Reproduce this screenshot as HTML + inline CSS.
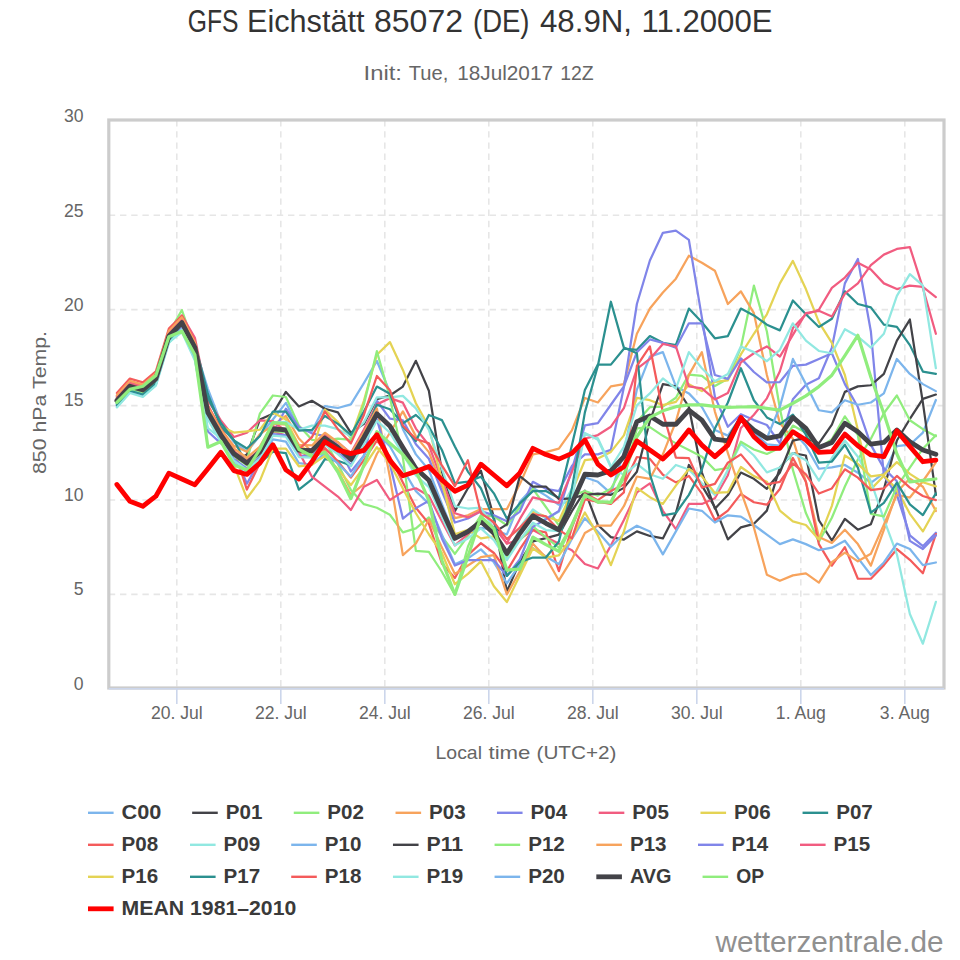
<!DOCTYPE html><html><head><meta charset="utf-8"><style>html,body{margin:0;padding:0;background:#fff;overflow:hidden}svg{display:block}text{-webkit-font-smoothing:antialiased}text{font-family:"Liberation Sans",sans-serif}</style></head><body>
<svg width="960" height="960" viewBox="0 0 600 600">
<rect x="0" y="0" width="600" height="600" fill="#fff"/>
<path d="M68 371.5H590" stroke="#e6e6e6" stroke-width="1" stroke-dasharray="4,3" fill="none"/>
<path d="M68 312.5H590" stroke="#e6e6e6" stroke-width="1" stroke-dasharray="4,3" fill="none"/>
<path d="M68 253.5H590" stroke="#e6e6e6" stroke-width="1" stroke-dasharray="4,3" fill="none"/>
<path d="M68 193.5H590" stroke="#e6e6e6" stroke-width="1" stroke-dasharray="4,3" fill="none"/>
<path d="M68 134.5H590" stroke="#e6e6e6" stroke-width="1" stroke-dasharray="4,3" fill="none"/>
<path d="M110.5 75V430" stroke="#e6e6e6" stroke-width="1" stroke-dasharray="4,3" fill="none"/>
<path d="M175.5 75V430" stroke="#e6e6e6" stroke-width="1" stroke-dasharray="4,3" fill="none"/>
<path d="M240.5 75V430" stroke="#e6e6e6" stroke-width="1" stroke-dasharray="4,3" fill="none"/>
<path d="M305.5 75V430" stroke="#e6e6e6" stroke-width="1" stroke-dasharray="4,3" fill="none"/>
<path d="M370.5 75V430" stroke="#e6e6e6" stroke-width="1" stroke-dasharray="4,3" fill="none"/>
<path d="M435.5 75V430" stroke="#e6e6e6" stroke-width="1" stroke-dasharray="4,3" fill="none"/>
<path d="M500.5 75V430" stroke="#e6e6e6" stroke-width="1" stroke-dasharray="4,3" fill="none"/>
<path d="M565.5 75V430" stroke="#e6e6e6" stroke-width="1" stroke-dasharray="4,3" fill="none"/>
<path d="M73.05 248.00 L81.17 239.01 L89.30 241.38 L97.42 234.39 L105.55 207.77 L113.67 200.31 L121.80 217.00 L129.93 243.03 L138.05 264.33 L146.18 276.28 L154.30 282.32 L162.43 272.26 L170.55 262.20 L178.68 251.79 L186.80 267.76 L194.93 269.54 L203.05 253.80 L211.18 254.99 L219.30 252.74 L227.43 239.48 L235.55 225.64 L243.68 245.04 L251.80 268.24 L259.93 283.98 L268.05 293.80 L276.18 314.98 L284.30 335.33 L292.43 333.68 L300.55 329.89 L308.68 331.19 L316.80 334.03 L324.93 313.56 L333.05 304.80 L341.18 309.77 L349.30 315.45 L357.43 312.61 L365.55 298.29 L373.68 301.13 L381.80 308.35 L389.93 282.44 L398.05 243.51 L406.18 222.92 L414.30 220.08 L422.43 241.50 L430.55 245.87 L438.68 254.39 L446.80 268.71 L454.93 272.26 L463.05 260.55 L471.18 270.13 L479.30 277.71 L487.43 278.53 L495.55 269.42 L503.68 278.65 L511.80 292.97 L519.92 292.14 L528.05 290.60 L536.17 295.46 L544.30 301.85 L552.42 295.69 L560.55 278.77 L568.67 277.94 L576.80 270.37 L584.92 250.01" stroke="#7cb5ec" stroke-width="1.4" fill="none" stroke-linejoin="round" stroke-linecap="round"/>
<path d="M73.05 251.32 L81.17 242.32 L89.30 244.69 L97.42 237.71 L105.55 211.08 L113.67 202.56 L121.80 218.18 L129.93 258.77 L138.05 274.87 L146.18 288.71 L154.30 284.10 L162.43 262.20 L170.55 258.53 L178.68 244.93 L186.80 254.04 L194.93 250.49 L203.05 255.46 L211.18 257.71 L219.30 270.49 L227.43 264.93 L235.55 249.42 L243.68 247.18 L251.80 241.61 L259.93 225.52 L268.05 244.22 L276.18 294.75 L284.30 319.48 L292.43 305.16 L300.55 294.15 L308.68 323.38 L316.80 369.77 L324.93 350.95 L333.05 338.41 L341.18 336.28 L349.30 334.15 L357.43 319.48 L365.55 306.70 L373.68 328.12 L381.80 335.69 L389.93 337.23 L398.05 332.14 L406.18 334.98 L414.30 336.52 L422.43 320.66 L430.55 290.60 L438.68 303.50 L446.80 316.99 L454.93 337.11 L463.05 329.65 L471.18 327.40 L479.30 319.12 L487.43 292.14 L495.55 283.15 L503.68 284.69 L511.80 325.16 L519.92 337.82 L528.05 324.33 L536.17 331.07 L544.30 327.64 L552.42 305.87 L560.55 275.34 L568.67 261.85 L576.80 249.31 L584.92 246.58" stroke="#434348" stroke-width="1.4" fill="none" stroke-linejoin="round" stroke-linecap="round"/>
<path d="M73.05 248.95 L81.17 239.96 L89.30 242.32 L97.42 235.11 L105.55 208.12 L113.67 193.81 L121.80 217.00 L129.93 259.72 L138.05 275.93 L146.18 282.32 L154.30 287.76 L162.43 258.53 L170.55 247.18 L178.68 248.12 L186.80 265.87 L194.93 274.87 L203.05 275.57 L211.18 290.01 L219.30 306.22 L227.43 315.10 L235.55 317.35 L243.68 321.73 L251.80 332.73 L259.93 330.25 L268.05 323.38 L276.18 335.22 L284.30 346.22 L292.43 335.10 L300.55 322.08 L308.68 322.67 L316.80 328.35 L324.93 316.87 L333.05 305.51 L341.18 316.87 L349.30 328.35 L357.43 309.77 L365.55 306.93 L373.68 309.77 L381.80 305.51 L389.93 291.08 L398.05 263.62 L406.18 254.51 L414.30 254.16 L422.43 248.59 L430.55 234.16 L438.68 234.87 L446.80 241.26 L454.93 236.76 L463.05 217.24 L471.18 178.54 L479.30 207.18 L487.43 255.34 L495.55 293.68 L503.68 320.66 L511.80 338.65 L519.92 323.62 L528.05 304.09 L536.17 287.17 L544.30 274.15 L552.42 258.30 L560.55 247.18 L568.67 262.68 L576.80 268.24 L584.92 272.62" stroke="#90ed7d" stroke-width="1.4" fill="none" stroke-linejoin="round" stroke-linecap="round"/>
<path d="M73.05 248.48 L81.17 239.48 L89.30 241.85 L97.42 234.87 L105.55 208.24 L113.67 199.72 L121.80 215.34 L129.93 255.93 L138.05 268.48 L146.18 278.65 L154.30 282.32 L162.43 271.32 L170.55 265.87 L178.68 259.96 L186.80 274.04 L194.93 282.32 L203.05 281.49 L211.18 294.39 L219.30 309.18 L227.43 302.56 L235.55 283.74 L243.68 270.49 L251.80 257.12 L259.93 272.74 L268.05 282.56 L276.18 303.62 L284.30 323.86 L292.43 322.08 L300.55 318.18 L308.68 318.18 L316.80 318.18 L324.93 302.56 L333.05 283.98 L341.18 282.56 L349.30 280.43 L357.43 268.95 L365.55 248.71 L373.68 251.55 L381.80 241.50 L389.93 240.07 L398.05 208.60 L406.18 192.86 L414.30 182.80 L422.43 174.16 L430.55 159.85 L438.68 164.22 L446.80 169.19 L454.93 190.02 L463.05 182.09 L471.18 195.70 L479.30 234.39 L487.43 264.45 L495.55 274.27 L503.68 301.13 L511.80 335.57 L519.92 339.36 L528.05 331.07 L536.17 340.07 L544.30 353.56 L552.42 331.19 L560.55 307.52 L568.67 299.12 L576.80 304.21 L584.92 319.36" stroke="#f7a35c" stroke-width="1.4" fill="none" stroke-linejoin="round" stroke-linecap="round"/>
<path d="M73.05 253.21 L81.17 244.22 L89.30 246.58 L97.42 239.60 L105.55 212.98 L113.67 206.47 L121.80 224.10 L129.93 269.66 L138.05 277.11 L146.18 282.32 L154.30 302.32 L162.43 287.76 L170.55 270.49 L178.68 255.46 L186.80 266.82 L194.93 270.84 L203.05 272.62 L211.18 278.18 L219.30 294.75 L227.43 284.80 L235.55 250.49 L243.68 261.61 L251.80 262.68 L259.93 277.59 L268.05 286.70 L276.18 307.05 L284.30 326.58 L292.43 324.09 L300.55 319.48 L308.68 322.08 L316.80 325.75 L324.93 319.71 L333.05 301.13 L341.18 305.51 L349.30 306.93 L357.43 291.19 L365.55 283.98 L373.68 283.98 L381.80 281.14 L389.93 242.09 L398.05 190.02 L406.18 162.80 L414.30 145.53 L422.43 144.11 L430.55 149.90 L438.68 198.54 L446.80 247.88 L454.93 266.70 L463.05 258.89 L471.18 262.56 L479.30 265.63 L487.43 277.11 L495.55 249.54 L503.68 240.43 L511.80 236.41 L519.92 217.24 L528.05 177.12 L536.17 161.86 L544.30 207.18 L552.42 297.35 L560.55 309.30 L568.67 334.62 L576.80 341.37 L584.92 332.97" stroke="#8085e9" stroke-width="1.4" fill="none" stroke-linejoin="round" stroke-linecap="round"/>
<path d="M73.05 247.53 L81.17 238.54 L89.30 240.90 L97.42 233.92 L105.55 207.30 L113.67 197.12 L121.80 211.08 L129.93 250.25 L138.05 262.80 L146.18 273.09 L154.30 270.49 L162.43 262.68 L170.55 263.15 L178.68 269.54 L186.80 281.25 L194.93 280.66 L203.05 271.79 L211.18 276.52 L219.30 283.15 L227.43 268.48 L235.55 252.74 L243.68 248.83 L251.80 251.67 L259.93 267.88 L268.05 278.30 L276.18 299.95 L284.30 320.78 L292.43 323.38 L300.55 319.48 L308.68 327.05 L316.80 339.83 L324.93 336.99 L333.05 331.19 L341.18 335.57 L349.30 339.83 L357.43 343.85 L365.55 352.49 L373.68 355.33 L381.80 341.01 L389.93 325.04 L398.05 307.76 L406.18 302.08 L414.30 319.24 L422.43 330.72 L430.55 314.98 L438.68 314.98 L446.80 311.43 L454.93 296.99 L463.05 267.53 L471.18 259.25 L479.30 248.95 L487.43 232.03 L495.55 205.05 L503.68 196.41 L511.80 193.57 L519.92 179.96 L528.05 173.45 L536.17 164.22 L544.30 168.48 L552.42 177.12 L560.55 180.67 L568.67 178.54 L576.80 179.25 L584.92 185.64" stroke="#f15c80" stroke-width="1.4" fill="none" stroke-linejoin="round" stroke-linecap="round"/>
<path d="M73.05 249.42 L81.17 240.43 L89.30 242.80 L97.42 235.81 L105.55 209.19 L113.67 200.67 L121.80 216.53 L129.93 257.23 L138.05 266.46 L146.18 270.37 L154.30 269.54 L162.43 268.59 L170.55 257.83 L178.68 262.20 L186.80 278.53 L194.93 282.68 L203.05 256.05 L211.18 263.86 L219.30 273.80 L227.43 250.49 L235.55 221.73 L243.68 213.81 L251.80 231.20 L259.93 252.03 L268.05 266.70 L276.18 300.66 L284.30 333.91 L292.43 331.19 L300.55 336.52 L308.68 335.22 L316.80 346.22 L324.93 332.14 L333.05 319.71 L341.18 322.79 L349.30 325.51 L357.43 307.41 L365.55 287.64 L373.68 286.58 L381.80 282.44 L389.93 272.14 L398.05 248.71 L406.18 250.13 L414.30 253.21 L422.43 251.20 L430.55 240.19 L438.68 244.45 L446.80 238.66 L454.93 237.71 L463.05 221.50 L471.18 208.60 L479.30 196.41 L487.43 177.12 L495.55 163.04 L503.68 180.67 L511.80 201.38 L519.92 214.28 L528.05 234.39 L536.17 268.71 L544.30 305.87 L552.42 297.35 L560.55 305.87 L568.67 321.13 L576.80 332.14 L584.92 317.70" stroke="#e4d354" stroke-width="1.4" fill="none" stroke-linejoin="round" stroke-linecap="round"/>
<path d="M73.05 252.26 L81.17 243.27 L89.30 245.64 L97.42 238.66 L105.55 212.03 L113.67 201.26 L121.80 214.63 L129.93 246.23 L138.05 266.82 L146.18 274.98 L154.30 290.49 L162.43 289.54 L170.55 282.32 L178.68 283.15 L186.80 305.99 L194.93 299.60 L203.05 286.94 L211.18 288.00 L219.30 290.96 L227.43 272.50 L235.55 252.97 L243.68 255.81 L251.80 264.57 L259.93 259.36 L268.05 266.70 L276.18 281.25 L284.30 302.08 L292.43 301.02 L300.55 297.94 L308.68 308.35 L316.80 324.09 L324.93 314.62 L333.05 306.93 L341.18 306.93 L349.30 311.19 L357.43 278.30 L365.55 243.74 L373.68 227.89 L381.80 227.89 L389.93 217.95 L398.05 218.66 L406.18 210.02 L414.30 214.28 L422.43 215.70 L430.55 192.86 L438.68 201.38 L446.80 211.44 L454.93 210.02 L463.05 192.86 L471.18 197.12 L479.30 202.92 L487.43 206.47 L495.55 187.77 L503.68 196.41 L511.80 204.34 L519.92 199.25 L528.05 182.09 L536.17 190.02 L544.30 192.15 L552.42 202.92 L560.55 204.34 L568.67 215.70 L576.80 232.26 L584.92 233.69" stroke="#2b908f" stroke-width="1.4" fill="none" stroke-linejoin="round" stroke-linecap="round"/>
<path d="M73.05 245.64 L81.17 236.64 L89.30 239.01 L97.42 232.03 L105.55 205.40 L113.67 197.36 L121.80 213.45 L129.93 253.33 L138.05 268.12 L146.18 280.43 L154.30 305.99 L162.43 289.54 L170.55 269.54 L178.68 272.26 L186.80 282.32 L194.93 285.28 L203.05 279.95 L211.18 288.36 L219.30 298.53 L227.43 287.53 L235.55 275.34 L243.68 285.51 L251.80 301.61 L259.93 317.35 L268.05 327.29 L276.18 352.14 L284.30 361.25 L292.43 346.93 L300.55 339.48 L308.68 345.63 L316.80 356.99 L324.93 343.26 L333.05 331.19 L341.18 332.73 L349.30 356.99 L357.43 329.77 L365.55 308.35 L373.68 312.61 L381.80 306.93 L389.93 302.79 L398.05 285.63 L406.18 286.82 L414.30 296.76 L422.43 301.49 L430.55 297.47 L438.68 308.47 L446.80 325.16 L454.93 319.12 L463.05 308.71 L471.18 313.91 L479.30 315.45 L487.43 305.63 L495.55 286.23 L503.68 301.13 L511.80 340.07 L519.92 353.56 L528.05 341.96 L536.17 361.72 L544.30 361.72 L552.42 353.20 L560.55 343.14 L568.67 349.89 L576.80 358.29 L584.92 333.79" stroke="#f45b5b" stroke-width="1.4" fill="none" stroke-linejoin="round" stroke-linecap="round"/>
<path d="M73.05 254.16 L81.17 245.16 L89.30 247.53 L97.42 240.55 L105.55 213.92 L113.67 207.53 L121.80 225.28 L129.93 267.65 L138.05 274.04 L146.18 290.49 L154.30 294.15 L162.43 282.32 L170.55 264.10 L178.68 263.62 L186.80 268.59 L194.93 265.99 L203.05 265.99 L211.18 268.24 L219.30 272.62 L227.43 263.86 L235.55 248.36 L243.68 248.36 L251.80 247.41 L259.93 255.22 L268.05 268.71 L276.18 292.97 L284.30 316.40 L292.43 317.82 L300.55 317.23 L308.68 330.25 L316.80 348.47 L324.93 329.77 L333.05 318.41 L341.18 324.09 L349.30 319.83 L357.43 305.51 L365.55 271.08 L373.68 273.92 L381.80 291.19 L389.93 296.99 L398.05 289.89 L406.18 296.40 L414.30 299.24 L422.43 290.60 L430.55 293.44 L438.68 302.08 L446.80 309.30 L454.93 293.68 L463.05 277.23 L471.18 284.69 L479.30 295.22 L487.43 292.14 L495.55 283.15 L503.68 287.64 L511.80 300.43 L519.92 286.23 L528.05 275.34 L536.17 285.51 L544.30 300.78 L552.42 324.45 L560.55 346.46 L568.67 383.73 L576.80 402.31 L584.92 376.16" stroke="#91e8e1" stroke-width="1.4" fill="none" stroke-linejoin="round" stroke-linecap="round"/>
<path d="M73.05 252.74 L81.17 243.74 L89.30 246.11 L97.42 239.13 L105.55 212.50 L113.67 205.64 L121.80 222.92 L129.93 261.14 L138.05 275.93 L146.18 288.24 L154.30 294.75 L162.43 288.47 L170.55 274.63 L178.68 276.05 L186.80 289.42 L194.93 290.37 L203.05 283.15 L211.18 289.66 L219.30 297.82 L227.43 284.80 L235.55 270.72 L243.68 278.89 L251.80 293.09 L259.93 306.93 L268.05 314.86 L276.18 334.15 L284.30 352.61 L292.43 348.94 L300.55 343.38 L308.68 351.43 L316.80 364.56 L324.93 352.73 L333.05 342.55 L341.18 347.76 L349.30 352.61 L357.43 336.75 L365.55 323.86 L373.68 332.38 L381.80 341.72 L389.93 333.56 L398.05 328.59 L406.18 332.14 L414.30 346.46 L422.43 332.14 L430.55 317.82 L438.68 319.24 L446.80 326.58 L454.93 322.08 L463.05 322.91 L471.18 328.12 L479.30 334.15 L487.43 340.07 L495.55 337.11 L503.68 340.07 L511.80 343.85 L519.92 342.31 L528.05 337.94 L536.17 348.70 L544.30 359.36 L552.42 351.55 L560.55 339.71 L568.67 343.14 L576.80 353.20 L584.92 351.55" stroke="#7cb5ec" stroke-width="1.4" fill="none" stroke-linejoin="round" stroke-linecap="round"/>
<path d="M73.05 249.90 L81.17 240.90 L89.30 243.27 L97.42 236.29 L105.55 209.66 L113.67 201.14 L121.80 216.76 L129.93 257.35 L138.05 271.43 L146.18 283.15 L154.30 288.95 L162.43 281.97 L170.55 267.53 L178.68 268.24 L186.80 280.90 L194.93 281.25 L203.05 273.33 L211.18 279.12 L219.30 286.70 L227.43 272.97 L235.55 258.18 L243.68 265.75 L251.80 279.24 L259.93 292.38 L268.05 299.72 L276.18 318.29 L284.30 336.04 L292.43 331.78 L300.55 325.51 L308.68 332.85 L316.80 327.76 L324.93 297.59 L333.05 304.09 L341.18 304.09 L349.30 311.90 L357.43 311.43 L365.55 309.30 L373.68 308.47 L381.80 309.30 L389.93 304.92 L398.05 294.86 L406.18 263.15 L414.30 240.07 L422.43 241.50 L430.55 254.39 L438.68 295.34 L446.80 317.94 L454.93 309.42 L463.05 295.34 L471.18 299.24 L479.30 305.51 L487.43 295.34 L495.55 275.34 L503.68 273.68 L511.80 277.11 L519.92 265.40 L528.05 244.93 L536.17 241.50 L544.30 240.78 L552.42 233.69 L560.55 212.86 L568.67 199.72 L576.80 251.67 L584.92 309.30" stroke="#434348" stroke-width="1.4" fill="none" stroke-linejoin="round" stroke-linecap="round"/>
<path d="M73.05 251.79 L81.17 242.80 L89.30 245.16 L97.42 238.18 L105.55 211.56 L113.67 203.04 L121.80 218.66 L129.93 259.25 L138.05 273.33 L146.18 285.04 L154.30 290.84 L162.43 283.86 L170.55 269.42 L178.68 270.13 L186.80 282.79 L194.93 283.15 L203.05 275.22 L211.18 274.15 L219.30 274.87 L227.43 252.74 L235.55 219.49 L243.68 248.36 L251.80 285.99 L259.93 344.33 L268.05 344.92 L276.18 357.34 L284.30 371.66 L292.43 341.72 L300.55 323.38 L308.68 333.09 L316.80 347.88 L324.93 337.58 L333.05 328.94 L341.18 335.81 L349.30 342.20 L357.43 327.88 L365.55 309.30 L373.68 314.27 L381.80 313.56 L389.93 299.24 L398.05 267.76 L406.18 266.94 L414.30 272.38 L422.43 277.11 L430.55 281.25 L438.68 285.40 L446.80 293.80 L454.93 292.50 L463.05 276.05 L471.18 280.90 L479.30 283.74 L487.43 279.84 L495.55 265.99 L503.68 270.49 L511.80 280.07 L519.92 274.51 L528.05 260.19 L536.17 272.02 L544.30 321.13 L552.42 322.79 L560.55 304.21 L568.67 292.26 L576.80 280.43 L584.92 272.02" stroke="#90ed7d" stroke-width="1.4" fill="none" stroke-linejoin="round" stroke-linecap="round"/>
<path d="M73.05 247.06 L81.17 238.06 L89.30 240.43 L97.42 233.45 L105.55 206.82 L113.67 198.30 L121.80 213.92 L129.93 254.51 L138.05 268.59 L146.18 280.31 L154.30 286.11 L162.43 279.12 L170.55 264.69 L178.68 265.40 L186.80 278.06 L194.93 278.41 L203.05 270.49 L211.18 276.28 L219.30 283.86 L227.43 270.13 L235.55 255.34 L243.68 298.18 L251.80 346.93 L259.93 339.71 L268.05 324.68 L276.18 342.20 L284.30 358.76 L292.43 353.44 L300.55 348.23 L308.68 346.93 L316.80 371.54 L324.93 356.99 L333.05 339.83 L341.18 348.47 L349.30 362.79 L357.43 349.65 L365.55 333.09 L373.68 328.47 L381.80 328.47 L389.93 316.40 L398.05 297.82 L406.18 299.24 L414.30 283.98 L422.43 263.50 L430.55 234.28 L438.68 220.08 L446.80 257.23 L454.93 283.15 L463.05 307.17 L471.18 329.65 L479.30 359.24 L487.43 363.02 L495.55 359.59 L503.68 358.41 L511.80 364.09 L519.92 351.31 L528.05 345.39 L536.17 350.83 L544.30 346.10 L552.42 327.88 L560.55 309.30 L568.67 310.96 L576.80 300.78 L584.92 288.95" stroke="#f7a35c" stroke-width="1.4" fill="none" stroke-linejoin="round" stroke-linecap="round"/>
<path d="M73.05 253.68 L81.17 244.69 L89.30 247.06 L97.42 240.07 L105.55 213.45 L113.67 204.93 L121.80 220.55 L129.93 261.14 L138.05 275.22 L146.18 286.94 L154.30 292.73 L162.43 285.75 L170.55 271.32 L178.68 272.02 L186.80 284.69 L194.93 285.04 L203.05 277.11 L211.18 282.91 L219.30 290.49 L227.43 276.76 L235.55 261.97 L243.68 290.01 L251.80 324.09 L259.93 317.58 L268.05 312.97 L276.18 336.52 L284.30 353.44 L292.43 350.12 L300.55 350.12 L308.68 350.12 L316.80 359.95 L324.93 349.53 L333.05 329.30 L341.18 324.56 L349.30 319.36 L357.43 293.44 L365.55 265.87 L373.68 264.45 L381.80 252.97 L389.93 241.50 L398.05 220.08 L406.18 212.15 L414.30 214.28 L422.43 217.24 L430.55 202.09 L438.68 202.09 L446.80 234.39 L454.93 236.76 L463.05 223.98 L471.18 232.50 L479.30 239.01 L487.43 238.77 L495.55 228.60 L503.68 227.89 L511.80 224.34 L519.92 220.79 L528.05 240.07 L536.17 254.39 L544.30 278.06 L552.42 292.73 L560.55 300.78 L568.67 338.06 L576.80 343.14 L584.92 334.62" stroke="#8085e9" stroke-width="1.4" fill="none" stroke-linejoin="round" stroke-linecap="round"/>
<path d="M73.05 248.95 L81.17 239.96 L89.30 242.32 L97.42 235.34 L105.55 208.72 L113.67 200.20 L121.80 215.82 L129.93 256.40 L138.05 270.49 L146.18 282.20 L154.30 288.00 L162.43 281.02 L170.55 266.58 L178.68 268.48 L186.80 282.32 L194.93 297.94 L203.05 304.21 L211.18 310.37 L219.30 318.77 L227.43 304.21 L235.55 299.95 L243.68 312.50 L251.80 307.29 L259.93 305.16 L268.05 309.89 L276.18 325.75 L284.30 340.89 L292.43 333.91 L300.55 325.04 L308.68 329.65 L316.80 339.59 L324.93 324.33 L333.05 310.84 L341.18 312.73 L349.30 314.27 L357.43 294.98 L365.55 274.15 L373.68 271.91 L381.80 266.70 L389.93 255.10 L398.05 230.61 L406.18 224.34 L414.30 214.99 L422.43 216.53 L430.55 241.50 L438.68 242.80 L446.80 249.66 L454.93 245.64 L463.05 226.47 L471.18 220.79 L479.30 216.53 L487.43 222.92 L495.55 209.31 L503.68 195.70 L511.80 194.28 L519.92 197.83 L528.05 183.51 L536.17 177.12 L544.30 165.64 L552.42 159.13 L560.55 155.58 L568.67 154.40 L576.80 179.96 L584.92 208.60" stroke="#f15c80" stroke-width="1.4" fill="none" stroke-linejoin="round" stroke-linecap="round"/>
<path d="M73.05 250.84 L81.17 241.85 L89.30 244.22 L97.42 237.24 L105.55 210.61 L113.67 202.09 L121.80 217.71 L129.93 258.30 L138.05 275.57 L146.18 290.49 L154.30 311.43 L162.43 300.54 L170.55 280.43 L178.68 280.43 L186.80 291.43 L194.93 290.49 L203.05 284.92 L211.18 293.21 L219.30 303.15 L227.43 291.79 L235.55 279.48 L243.68 289.42 L251.80 305.28 L259.93 320.78 L268.05 333.91 L276.18 345.63 L284.30 365.15 L292.43 358.64 L300.55 350.83 L308.68 366.45 L316.80 376.28 L324.93 359.59 L333.05 342.67 L341.18 348.47 L349.30 347.05 L357.43 336.04 L365.55 320.31 L373.68 334.62 L381.80 353.20 L389.93 332.14 L398.05 304.92 L406.18 310.72 L414.30 314.98 L422.43 303.50 L430.55 293.09 L438.68 297.70 L446.80 308.12 L454.93 307.64 L463.05 291.90 L471.18 297.59 L479.30 301.13 L487.43 319.12 L495.55 325.87 L503.68 328.12 L511.80 337.11 L519.92 316.16 L528.05 284.69 L536.17 289.89 L544.30 297.70 L552.42 296.64 L560.55 288.83 L568.67 296.16 L576.80 301.37 L584.92 303.98" stroke="#e4d354" stroke-width="1.4" fill="none" stroke-linejoin="round" stroke-linecap="round"/>
<path d="M73.05 253.21 L81.17 244.22 L89.30 246.58 L97.42 239.60 L105.55 212.98 L113.67 202.33 L121.80 215.82 L129.93 248.95 L138.05 264.33 L146.18 275.22 L154.30 280.31 L162.43 272.50 L170.55 257.23 L178.68 257.23 L186.80 269.07 L194.93 268.71 L203.05 259.96 L211.18 264.93 L219.30 271.79 L227.43 257.23 L235.55 241.61 L243.68 246.11 L251.80 266.58 L259.93 275.57 L268.05 259.36 L276.18 262.56 L284.30 279.12 L292.43 294.75 L300.55 305.16 L308.68 324.68 L316.80 359.95 L324.93 351.31 L333.05 348.47 L341.18 348.47 L349.30 338.41 L357.43 305.51 L365.55 257.71 L373.68 228.60 L381.80 188.60 L389.93 217.24 L398.05 220.79 L406.18 296.40 L414.30 322.08 L422.43 320.66 L430.55 309.30 L438.68 293.44 L446.80 267.76 L454.93 251.55 L463.05 230.13 L471.18 250.13 L479.30 260.90 L487.43 265.04 L495.55 259.13 L503.68 271.67 L511.80 289.18 L519.92 288.47 L528.05 277.94 L536.17 292.26 L544.30 320.42 L552.42 314.27 L560.55 301.61 L568.67 315.22 L576.80 321.96 L584.92 308.35" stroke="#2b908f" stroke-width="1.4" fill="none" stroke-linejoin="round" stroke-linecap="round"/>
<path d="M73.05 249.90 L81.17 240.90 L89.30 243.27 L97.42 236.29 L105.55 209.66 L113.67 201.14 L121.80 216.76 L129.93 257.35 L138.05 271.43 L146.18 283.15 L154.30 288.95 L162.43 281.97 L170.55 267.53 L178.68 268.24 L186.80 280.90 L194.93 273.21 L203.05 257.12 L211.18 268.24 L219.30 277.11 L227.43 259.36 L235.55 234.99 L243.68 243.86 L251.80 265.99 L259.93 274.39 L268.05 277.00 L276.18 290.84 L284.30 303.86 L292.43 287.64 L300.55 320.78 L308.68 326.34 L316.80 336.99 L324.93 329.77 L333.05 321.25 L341.18 322.67 L349.30 331.19 L357.43 336.52 L365.55 312.14 L373.68 313.56 L381.80 314.98 L389.93 307.76 L398.05 228.60 L406.18 216.53 L414.30 257.83 L422.43 285.99 L430.55 286.34 L438.68 304.69 L446.80 302.44 L454.93 289.18 L463.05 283.98 L471.18 293.68 L479.30 302.67 L487.43 301.13 L495.55 289.66 L503.68 296.52 L511.80 308.47 L519.92 305.28 L528.05 293.32 L536.17 298.53 L544.30 306.34 L552.42 305.28 L560.55 297.47 L568.67 304.80 L576.80 310.01 L584.92 312.61" stroke="#f45b5b" stroke-width="1.4" fill="none" stroke-linejoin="round" stroke-linecap="round"/>
<path d="M73.05 254.63 L81.17 245.64 L89.30 248.00 L97.42 241.02 L105.55 214.40 L113.67 205.88 L121.80 221.50 L129.93 262.09 L138.05 276.17 L146.18 287.88 L154.30 293.68 L162.43 286.70 L170.55 272.26 L178.68 272.97 L186.80 285.63 L194.93 285.99 L203.05 278.06 L211.18 283.86 L219.30 291.43 L227.43 277.71 L235.55 262.91 L243.68 270.49 L251.80 283.98 L259.93 297.11 L268.05 304.45 L276.18 323.03 L284.30 340.78 L292.43 336.52 L300.55 330.25 L308.68 337.58 L316.80 350.12 L324.93 337.58 L333.05 326.69 L341.18 331.31 L349.30 332.02 L357.43 312.14 L365.55 270.61 L373.68 274.87 L381.80 292.02 L389.93 279.24 L398.05 253.33 L406.18 245.87 L414.30 236.52 L422.43 242.91 L430.55 220.08 L438.68 230.13 L446.80 238.30 L454.93 233.69 L463.05 216.53 L471.18 220.08 L479.30 225.76 L487.43 218.66 L495.55 202.09 L503.68 212.86 L511.80 219.37 L519.92 220.79 L528.05 205.76 L536.17 210.37 L544.30 217.24 L552.42 208.60 L560.55 184.93 L568.67 171.32 L576.80 178.54 L584.92 230.13" stroke="#91e8e1" stroke-width="1.4" fill="none" stroke-linejoin="round" stroke-linecap="round"/>
<path d="M73.05 250.37 L81.17 241.38 L89.30 243.74 L97.42 236.76 L105.55 210.14 L113.67 201.62 L121.80 217.24 L129.93 257.83 L138.05 271.91 L146.18 283.62 L154.30 289.42 L162.43 282.44 L170.55 268.00 L178.68 268.71 L186.80 281.37 L194.93 281.73 L203.05 273.80 L211.18 279.60 L219.30 287.17 L227.43 273.44 L235.55 258.65 L243.68 266.23 L251.80 279.72 L259.93 292.85 L268.05 300.19 L276.18 318.77 L284.30 336.52 L292.43 332.26 L300.55 325.99 L308.68 333.32 L316.80 345.87 L324.93 333.32 L333.05 322.43 L341.18 327.05 L349.30 331.19 L357.43 314.62 L365.55 296.40 L373.68 296.88 L381.80 294.27 L389.93 285.40 L398.05 263.50 L406.18 259.96 L414.30 265.16 L422.43 265.16 L430.55 256.29 L438.68 262.56 L446.80 274.51 L454.93 275.57 L463.05 261.49 L471.18 268.71 L479.30 273.92 L487.43 254.16 L495.55 224.34 L503.68 240.07 L511.80 256.40 L519.92 257.71 L528.05 250.13 L536.17 252.97 L544.30 251.55 L552.42 245.87 L560.55 224.34 L568.67 233.69 L576.80 240.07 L584.92 244.45" stroke="#7cb5ec" stroke-width="1.4" fill="none" stroke-linejoin="round" stroke-linecap="round"/>
<path d="M73.05 250.37 L81.17 241.38 L89.30 243.74 L97.42 236.76 L105.55 210.14 L113.67 201.62 L121.80 217.24 L129.93 257.83 L138.05 271.91 L146.18 283.62 L154.30 289.42 L162.43 282.44 L170.55 268.00 L178.68 268.71 L186.80 281.37 L194.93 281.73 L203.05 273.80 L211.18 279.60 L219.30 287.17 L227.43 273.44 L235.55 258.65 L243.68 266.23 L251.80 279.72 L259.93 292.85 L268.05 300.19 L276.18 318.77 L284.30 336.52 L292.43 332.26 L300.55 325.99 L308.68 333.32 L316.80 345.87 L324.93 333.32 L333.05 322.43 L341.18 327.05 L349.30 331.19 L357.43 314.62 L365.55 296.40 L373.68 296.88 L381.80 294.27 L389.93 285.40 L398.05 263.50 L406.18 259.96 L414.30 265.16 L422.43 265.16 L430.55 256.29 L438.68 262.56 L446.80 274.51 L454.93 275.57 L463.05 261.49 L471.18 268.71 L479.30 273.92 L487.43 272.38 L495.55 260.90 L503.68 267.76 L511.80 279.72 L519.92 276.52 L528.05 264.57 L536.17 269.78 L544.30 277.59 L552.42 276.52 L560.55 268.71 L568.67 276.05 L576.80 281.25 L584.92 283.86" stroke="#434348" stroke-width="3" fill="none" stroke-linejoin="round" stroke-linecap="round"/>
<path d="M73.05 251.55 L81.17 243.39 L89.30 241.38 L97.42 234.75 L105.55 210.49 L113.67 207.06 L121.80 221.73 L129.93 279.48 L138.05 275.93 L146.18 290.60 L154.30 293.80 L162.43 280.78 L170.55 264.10 L178.68 264.69 L186.80 280.78 L194.93 285.16 L203.05 282.68 L211.18 295.10 L219.30 311.67 L227.43 290.60 L235.55 269.78 L243.68 277.00 L251.80 284.10 L259.93 294.15 L268.05 312.85 L276.18 350.36 L284.30 371.54 L292.43 348.00 L300.55 322.91 L308.68 330.48 L316.80 356.28 L324.93 355.69 L333.05 335.69 L341.18 340.42 L349.30 344.56 L357.43 328.12 L365.55 309.42 L373.68 313.56 L381.80 314.03 L389.93 296.88 L398.05 272.97 L406.18 260.90 L414.30 256.76 L422.43 254.16 L430.55 253.09 L438.68 253.09 L446.80 254.04 L454.93 254.63 L463.05 254.39 L471.18 254.16 L479.30 255.22 L487.43 256.29 L495.55 252.03 L503.68 247.41 L511.80 241.61 L519.92 234.51 L528.05 222.32 L536.17 209.55 L544.30 235.81 L552.42 258.42 L560.55 283.74 L568.67 301.25 L576.80 300.19 L584.92 299.36" stroke="#90ed7d" stroke-width="2" fill="none" stroke-linejoin="round" stroke-linecap="round"/>
<path d="M73.05 302.79 L81.17 313.32 L89.30 316.40 L97.42 310.13 L105.55 295.69 L113.67 299.36 L121.80 303.03 L129.93 292.97 L138.05 282.68 L146.18 294.15 L154.30 296.52 L162.43 289.42 L170.55 277.94 L178.68 293.68 L186.80 299.36 L194.93 288.59 L203.05 276.05 L211.18 281.14 L219.30 283.50 L227.43 281.49 L235.55 271.67 L243.68 287.76 L251.80 297.35 L259.93 294.63 L268.05 291.55 L276.18 299.95 L284.30 307.05 L292.43 303.15 L300.55 290.13 L308.68 296.88 L316.80 303.62 L324.93 295.57 L333.05 280.19 L341.18 284.10 L349.30 286.94 L357.43 283.38 L365.55 274.98 L373.68 290.13 L381.80 296.88 L389.93 291.67 L398.05 275.57 L406.18 281.25 L414.30 286.94 L422.43 279.12 L430.55 268.71 L438.68 278.18 L446.80 285.40 L454.93 278.18 L463.05 260.90 L471.18 272.97 L479.30 280.19 L487.43 280.19 L495.55 269.78 L503.68 274.98 L511.80 282.79 L519.92 282.32 L528.05 271.32 L536.17 278.65 L544.30 284.33 L552.42 285.40 L560.55 269.30 L568.67 279.12 L576.80 288.59 L584.92 287.53" stroke="#ff0000" stroke-width="3" fill="none" stroke-linejoin="round" stroke-linecap="round"/>
<rect x="68" y="75" width="522" height="355" fill="none" stroke="#cccccc" stroke-width="2"/>
<path d="M68 430.5H590" stroke="#ccd6eb" stroke-width="1"/>
<path d="M110.5 430V440" stroke="#ccd6eb" stroke-width="1"/>
<text x="110.5" y="449.1" text-anchor="middle" font-size="11" fill="#666666">20. Jul</text>
<path d="M175.5 430V440" stroke="#ccd6eb" stroke-width="1"/>
<text x="175.5" y="449.1" text-anchor="middle" font-size="11" fill="#666666">22. Jul</text>
<path d="M240.5 430V440" stroke="#ccd6eb" stroke-width="1"/>
<text x="240.5" y="449.1" text-anchor="middle" font-size="11" fill="#666666">24. Jul</text>
<path d="M305.5 430V440" stroke="#ccd6eb" stroke-width="1"/>
<text x="305.5" y="449.1" text-anchor="middle" font-size="11" fill="#666666">26. Jul</text>
<path d="M370.5 430V440" stroke="#ccd6eb" stroke-width="1"/>
<text x="370.5" y="449.1" text-anchor="middle" font-size="11" fill="#666666">28. Jul</text>
<path d="M435.5 430V440" stroke="#ccd6eb" stroke-width="1"/>
<text x="435.5" y="449.1" text-anchor="middle" font-size="11" fill="#666666">30. Jul</text>
<path d="M500.5 430V440" stroke="#ccd6eb" stroke-width="1"/>
<text x="500.5" y="449.1" text-anchor="middle" font-size="11" fill="#666666">1. Aug</text>
<path d="M565.5 430V440" stroke="#ccd6eb" stroke-width="1"/>
<text x="565.5" y="449.1" text-anchor="middle" font-size="11" fill="#666666">3. Aug</text>
<text x="52.25" y="431.25" text-anchor="end" font-size="11" fill="#666666">0</text>
<text x="52.25" y="372.08" text-anchor="end" font-size="11" fill="#666666">5</text>
<text x="52.25" y="312.92" text-anchor="end" font-size="11" fill="#666666">10</text>
<text x="52.25" y="253.75" text-anchor="end" font-size="11" fill="#666666">15</text>
<text x="52.25" y="194.58" text-anchor="end" font-size="11" fill="#666666">20</text>
<text x="52.25" y="135.42" text-anchor="end" font-size="11" fill="#666666">25</text>
<text x="52.25" y="76.25" text-anchor="end" font-size="11" fill="#666666">30</text>
<text transform="translate(28.75 251.55) rotate(-90)" x="0" y="0" text-anchor="middle" font-size="12" fill="#666666" textLength="89.4" lengthAdjust="spacingAndGlyphs">850 hPa Temp.</text>
<path d="M55 508H71" stroke="#7cb5ec" stroke-width="1.5" stroke-linecap="butt"/>
<text x="76" y="512" font-size="12.5" font-weight="bold" fill="#3a3a3a" textLength="24.92" lengthAdjust="spacingAndGlyphs">C00</text>
<path d="M120.1 508H136.1" stroke="#434348" stroke-width="1.5" stroke-linecap="butt"/>
<text x="141.1" y="512" font-size="12.5" font-weight="bold" fill="#3a3a3a" textLength="22.9" lengthAdjust="spacingAndGlyphs">P01</text>
<path d="M183.6 508H199.6" stroke="#90ed7d" stroke-width="1.5" stroke-linecap="butt"/>
<text x="204.6" y="512" font-size="12.5" font-weight="bold" fill="#3a3a3a" textLength="22.9" lengthAdjust="spacingAndGlyphs">P02</text>
<path d="M247.2 508H263.2" stroke="#f7a35c" stroke-width="1.5" stroke-linecap="butt"/>
<text x="268.2" y="512" font-size="12.5" font-weight="bold" fill="#3a3a3a" textLength="22.9" lengthAdjust="spacingAndGlyphs">P03</text>
<path d="M310.6 508H326.6" stroke="#8085e9" stroke-width="1.5" stroke-linecap="butt"/>
<text x="331.6" y="512" font-size="12.5" font-weight="bold" fill="#3a3a3a" textLength="22.9" lengthAdjust="spacingAndGlyphs">P04</text>
<path d="M374.2 508H390.2" stroke="#f15c80" stroke-width="1.5" stroke-linecap="butt"/>
<text x="395.2" y="512" font-size="12.5" font-weight="bold" fill="#3a3a3a" textLength="22.9" lengthAdjust="spacingAndGlyphs">P05</text>
<path d="M437.8 508H453.8" stroke="#e4d354" stroke-width="1.5" stroke-linecap="butt"/>
<text x="458.8" y="512" font-size="12.5" font-weight="bold" fill="#3a3a3a" textLength="22.9" lengthAdjust="spacingAndGlyphs">P06</text>
<path d="M501.6 508H517.6" stroke="#2b908f" stroke-width="1.5" stroke-linecap="butt"/>
<text x="522.6" y="512" font-size="12.5" font-weight="bold" fill="#3a3a3a" textLength="22.9" lengthAdjust="spacingAndGlyphs">P07</text>
<path d="M55 528H71" stroke="#f45b5b" stroke-width="1.5" stroke-linecap="butt"/>
<text x="76" y="532" font-size="12.5" font-weight="bold" fill="#3a3a3a" textLength="22.9" lengthAdjust="spacingAndGlyphs">P08</text>
<path d="M118.75 528H134.75" stroke="#91e8e1" stroke-width="1.5" stroke-linecap="butt"/>
<text x="139.75" y="532" font-size="12.5" font-weight="bold" fill="#3a3a3a" textLength="22.9" lengthAdjust="spacingAndGlyphs">P09</text>
<path d="M182.0 528H198.0" stroke="#7cb5ec" stroke-width="1.5" stroke-linecap="butt"/>
<text x="203.0" y="532" font-size="12.5" font-weight="bold" fill="#3a3a3a" textLength="22.9" lengthAdjust="spacingAndGlyphs">P10</text>
<path d="M245.6 528H261.6" stroke="#434348" stroke-width="1.5" stroke-linecap="butt"/>
<text x="266.6" y="532" font-size="12.5" font-weight="bold" fill="#3a3a3a" textLength="22.9" lengthAdjust="spacingAndGlyphs">P11</text>
<path d="M309.1 528H325.1" stroke="#90ed7d" stroke-width="1.5" stroke-linecap="butt"/>
<text x="330.1" y="532" font-size="12.5" font-weight="bold" fill="#3a3a3a" textLength="22.9" lengthAdjust="spacingAndGlyphs">P12</text>
<path d="M372.7 528H388.7" stroke="#f7a35c" stroke-width="1.5" stroke-linecap="butt"/>
<text x="393.7" y="532" font-size="12.5" font-weight="bold" fill="#3a3a3a" textLength="22.9" lengthAdjust="spacingAndGlyphs">P13</text>
<path d="M436.25 528H452.25" stroke="#8085e9" stroke-width="1.5" stroke-linecap="butt"/>
<text x="457.25" y="532" font-size="12.5" font-weight="bold" fill="#3a3a3a" textLength="22.9" lengthAdjust="spacingAndGlyphs">P14</text>
<path d="M500 528H516" stroke="#f15c80" stroke-width="1.5" stroke-linecap="butt"/>
<text x="521" y="532" font-size="12.5" font-weight="bold" fill="#3a3a3a" textLength="22.9" lengthAdjust="spacingAndGlyphs">P15</text>
<path d="M55 548H71" stroke="#e4d354" stroke-width="1.5" stroke-linecap="butt"/>
<text x="76" y="552" font-size="12.5" font-weight="bold" fill="#3a3a3a" textLength="22.9" lengthAdjust="spacingAndGlyphs">P16</text>
<path d="M118.75 548H134.75" stroke="#2b908f" stroke-width="1.5" stroke-linecap="butt"/>
<text x="139.75" y="552" font-size="12.5" font-weight="bold" fill="#3a3a3a" textLength="22.9" lengthAdjust="spacingAndGlyphs">P17</text>
<path d="M182.0 548H198.0" stroke="#f45b5b" stroke-width="1.5" stroke-linecap="butt"/>
<text x="203.0" y="552" font-size="12.5" font-weight="bold" fill="#3a3a3a" textLength="22.9" lengthAdjust="spacingAndGlyphs">P18</text>
<path d="M245.6 548H261.6" stroke="#91e8e1" stroke-width="1.5" stroke-linecap="butt"/>
<text x="266.6" y="552" font-size="12.5" font-weight="bold" fill="#3a3a3a" textLength="22.9" lengthAdjust="spacingAndGlyphs">P19</text>
<path d="M309.1 548H325.1" stroke="#7cb5ec" stroke-width="1.5" stroke-linecap="butt"/>
<text x="330.1" y="552" font-size="12.5" font-weight="bold" fill="#3a3a3a" textLength="22.9" lengthAdjust="spacingAndGlyphs">P20</text>
<path d="M372.7 548H388.7" stroke="#434348" stroke-width="3" stroke-linecap="butt"/>
<text x="393.7" y="552" font-size="12.5" font-weight="bold" fill="#3a3a3a" textLength="26.0" lengthAdjust="spacingAndGlyphs">AVG</text>
<path d="M439.1 548H455.1" stroke="#90ed7d" stroke-width="1.5" stroke-linecap="butt"/>
<text x="460.1" y="552" font-size="12.5" font-weight="bold" fill="#3a3a3a" textLength="17.4" lengthAdjust="spacingAndGlyphs">OP</text>
<path d="M55 568H71" stroke="#ff0000" stroke-width="3" stroke-linecap="butt"/>
<text x="76" y="572" font-size="12.5" font-weight="bold" fill="#3a3a3a" textLength="109.2" lengthAdjust="spacingAndGlyphs">MEAN 1981–2010</text>
<text x="117.34" y="20" font-size="19.6" fill="#333333" textLength="31.72" lengthAdjust="spacingAndGlyphs">GFS</text>
<text x="154.38" y="20" font-size="19.6" fill="#333333" textLength="73.44" lengthAdjust="spacingAndGlyphs">Eichstätt</text>
<text x="233.75" y="20" font-size="19.6" fill="#333333" textLength="55.62" lengthAdjust="spacingAndGlyphs">85072</text>
<text x="295.62" y="20" font-size="19.6" fill="#333333" textLength="35.31" lengthAdjust="spacingAndGlyphs">(DE)</text>
<text x="337.50" y="20" font-size="19.6" fill="#333333" textLength="57.50" lengthAdjust="spacingAndGlyphs">48.9N,</text>
<text x="400.94" y="20" font-size="19.6" fill="#333333" textLength="81.87" lengthAdjust="spacingAndGlyphs">11.2000E</text>
<text x="227.19" y="50" font-size="12.5" fill="#666666" textLength="24.06" lengthAdjust="spacingAndGlyphs">Init:</text>
<text x="255.47" y="50" font-size="12.5" fill="#666666" textLength="24.69" lengthAdjust="spacingAndGlyphs">Tue,</text>
<text x="285.78" y="50" font-size="12.5" fill="#666666" textLength="59.84" lengthAdjust="spacingAndGlyphs">18Jul2017</text>
<text x="350.16" y="50" font-size="12.5" fill="#666666" textLength="20.94" lengthAdjust="spacingAndGlyphs">12Z</text>
<text x="272.19" y="474.25" font-size="11.5" fill="#666666" textLength="29.06" lengthAdjust="spacingAndGlyphs">Local</text>
<text x="305.31" y="474.25" font-size="11.5" fill="#666666" textLength="26.25" lengthAdjust="spacingAndGlyphs">time</text>
<text x="335.31" y="474.25" font-size="11.5" fill="#666666" textLength="50.00" lengthAdjust="spacingAndGlyphs">(UTC+2)</text>
<text x="447.19" y="595" font-size="18" fill="#909090" textLength="142.50" lengthAdjust="spacingAndGlyphs">wetterzentrale.de</text>
</svg></body></html>
